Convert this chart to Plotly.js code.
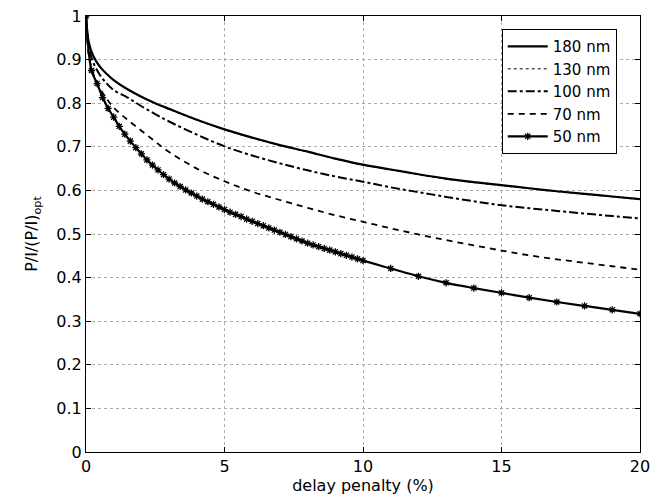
<!DOCTYPE html>
<html>
<head>
<meta charset="utf-8">
<script src="https://cdn.plot.ly/plotly-3.0.1.min.js"></script>
<style>html,body{margin:0;padding:0;background:#fff;}#chart{width:656px;height:500px;}</style>
</head>
<body>
<div id="chart"></div>
<script>
// x positions (delay penalty, %) for the smooth curves
const xCurve = [0, 0.1, 0.25, 0.5, 0.75, 1, 1.5, 2, 2.5, 3, 4, 5, 6, 7, 8, 9, 10, 11, 12, 13, 14, 15, 16, 17, 18, 19, 20];
const y180 = [1, 0.94, 0.91, 0.884, 0.867, 0.853, 0.832, 0.815, 0.80, 0.787, 0.762, 0.74, 0.721, 0.704, 0.689, 0.673, 0.659, 0.648, 0.637, 0.627, 0.619, 0.612, 0.605, 0.598, 0.592, 0.586, 0.58];
const y130 = [1, 0.94, 0.909, 0.883, 0.866, 0.852, 0.831, 0.814, 0.799, 0.786, 0.761, 0.739, 0.72, 0.703, 0.688, 0.672, 0.658, 0.647, 0.636, 0.626, 0.618, 0.611, 0.604, 0.597, 0.591, 0.585, 0.579];
const y100 = [1, 0.93, 0.895, 0.865, 0.845, 0.83, 0.813, 0.793, 0.775, 0.758, 0.728, 0.701, 0.68, 0.662, 0.646, 0.632, 0.62, 0.607, 0.596, 0.585, 0.575, 0.566, 0.559, 0.553, 0.547, 0.541, 0.536];
const y70 = [1, 0.91, 0.87, 0.835, 0.81, 0.79, 0.762, 0.737, 0.712, 0.688, 0.65, 0.621, 0.597, 0.578, 0.56, 0.543, 0.528, 0.513, 0.499, 0.486, 0.474, 0.462, 0.451, 0.442, 0.434, 0.426, 0.418];

// 50 nm curve: fine sampling up to 10 %, then every 1 %
const x50 = [0, 0.2, 0.4, 0.6, 0.8, 1.0, 1.2, 1.4, 1.6, 1.8, 2.0, 2.2, 2.4, 2.6, 2.8, 3.0, 3.2, 3.4, 3.6, 3.8, 4.0, 4.2, 4.4, 4.6, 4.8, 5.0, 5.2, 5.4, 5.6, 5.8, 6.0, 6.2, 6.4, 6.6, 6.8, 7.0, 7.2, 7.4, 7.6, 7.8, 8.0, 8.2, 8.4, 8.6, 8.8, 9.0, 9.2, 9.4, 9.6, 9.8, 10, 11, 12, 13, 14, 15, 16, 17, 18, 19, 20];
const y50 = [1, 0.875, 0.845, 0.813, 0.788, 0.768, 0.747, 0.729, 0.713, 0.698, 0.684, 0.67, 0.658, 0.647, 0.636, 0.626, 0.617, 0.609, 0.601, 0.594, 0.587, 0.58, 0.574, 0.568, 0.562, 0.556, 0.55, 0.545, 0.54, 0.534, 0.529, 0.524, 0.519, 0.514, 0.509, 0.504, 0.499, 0.494, 0.489, 0.484, 0.479, 0.475, 0.471, 0.467, 0.463, 0.459, 0.455, 0.451, 0.447, 0.443, 0.439, 0.421, 0.403, 0.388, 0.376, 0.365, 0.354, 0.344, 0.335, 0.326, 0.317];

const names = ['180 nm', '130 nm', '100 nm', '70 nm', '50 nm'];
const xTicks = [0, 5, 10, 15, 20];
const yTicks = [0, 0.1, 0.2, 0.3, 0.4, 0.5, 0.6, 0.7, 0.8, 0.9, 1];
const yTickText = ['0', '0.1', '0.2', '0.3', '0.4', '0.5', '0.6', '0.7', '0.8', '0.9', '1'];

const FONT = 'DejaVu Sans, Liberation Sans, Arial, sans-serif';

const traces = [
  {x: xCurve, y: y130, name: names[1], legendrank: 2, mode: 'lines', line: {color: '#000', width: 1, dash: 'dot', shape: 'spline'}},
  {x: xCurve, y: y180, name: names[0], legendrank: 1, mode: 'lines', line: {color: '#000', width: 2.2, shape: 'spline'}},
  {x: xCurve, y: y100, name: names[2], legendrank: 3, mode: 'lines', line: {color: '#000', width: 2, dash: 'dashdot', shape: 'spline'}},
  {x: xCurve, y: y70, name: names[3], legendrank: 4, mode: 'lines', line: {color: '#000', width: 1.8, dash: '6px,5px', shape: 'spline'}},
  {x: x50, y: y50, name: names[4], legendrank: 5, mode: 'lines+markers', line: {color: '#000', width: 2.2, shape: 'spline'},
   marker: {symbol: 'asterisk-open', size: 6, color: '#000', line: {color: '#000', width: 1.3}}}
];

const axisCommon = {
  showline: true, linecolor: '#000', linewidth: 1, mirror: 'ticks',
  ticks: 'inside', ticklen: 5, tickcolor: '#000', tickwidth: 1,
  showgrid: true, gridcolor: '#aaa', griddash: 'dot', gridwidth: 1,
  zeroline: false, tickfont: {family: FONT, size: 16, color: '#000'}
};

const layout = {
  width: 656, height: 500,
  margin: {l: 86, r: 16, t: 16, b: 48},
  paper_bgcolor: '#fff', plot_bgcolor: '#fff',
  font: {family: FONT, color: '#000'},
  xaxis: Object.assign({}, axisCommon, {
    range: [0, 20], tickvals: xTicks, ticktext: xTicks.map(String),
    title: {text: 'delay penalty (%)', font: {family: FONT, size: 16}, standoff: 1}
  }),
  yaxis: Object.assign({}, axisCommon, {
    range: [0, 1], tickvals: yTicks, ticktext: yTickText,
    title: {text: 'P/I/(P/I)<sub>opt</sub>', font: {family: FONT, size: 16}, standoff: 14}
  }),
  legend: {
    x: 0.958, y: 0.97, xanchor: 'right', yanchor: 'top',
    bgcolor: '#fff', bordercolor: '#000', borderwidth: 1,
    font: {family: FONT, size: 15, color: '#000'},
    traceorder: 'normal', itemwidth: 40, tracegroupgap: 0
  },
  showlegend: true
};

Plotly.newPlot('chart', traces, layout, {displayModeBar: false, staticPlot: true});
</script>
</body>
</html>
